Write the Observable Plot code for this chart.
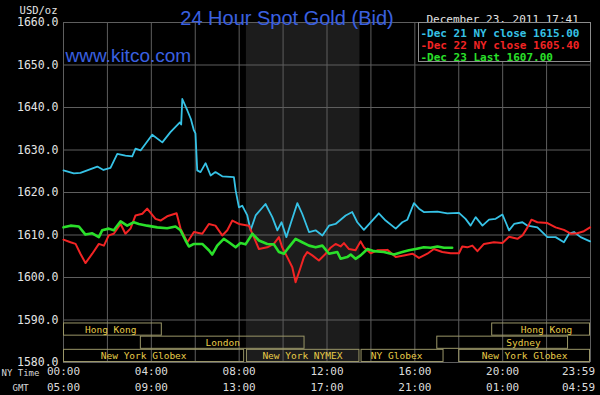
<!DOCTYPE html>
<html><head><meta charset="utf-8">
<script src="https://cdn.jsdelivr.net/npm/d3@7"></script>
<script src="https://cdn.jsdelivr.net/npm/@observablehq/plot@0.6"></script>
<style>
html,body{margin:0;padding:0;background:#000;}
#chart{width:600px;height:395px;overflow:hidden;}
svg{display:block}
</style></head><body><div id="chart"></div>
<script>
// Dec 21 NY close series (cyan): [NY hour, USD/oz]
const dec21 = [[0,1625.2],[0.47,1624.5],[0.77,1624.6],[1.08,1625.2],[1.54,1626.1],[1.82,1625.3],[2.14,1625.8],[2.45,1629.1],[2.82,1628.7],[3.13,1628.5],[3.28,1630.3],[3.51,1629.9],[4.04,1633.6],[4.5,1631.8],[4.87,1634.2],[5.3,1636.5],[5.36,1636.0],[5.41,1642.0],[5.64,1639.3],[5.8,1637.3],[5.94,1634.6],[6.01,1633.9],[6.09,1625.2],[6.24,1624.8],[6.47,1626.9],[6.7,1624.0],[6.92,1624.8],[7.23,1623.8],[7.76,1623.6],[7.84,1620.5],[7.99,1616.5],[8.14,1616.9],[8.37,1614.6],[8.52,1611.1],[8.75,1614.6],[9.2,1617.3],[9.51,1614.2],[9.74,1611.1],[9.93,1613.0],[10.15,1609.5],[10.34,1612.6],[10.65,1617.5],[10.87,1615.0],[11.18,1610.7],[11.48,1611.1],[11.79,1609.9],[12.09,1612.2],[12.39,1612.6],[12.85,1614.6],[13.15,1615.4],[13.38,1613.0],[13.68,1611.2],[14.06,1613.4],[14.36,1615.1],[14.67,1613.4],[15.13,1611.5],[15.43,1613.0],[15.66,1613.6],[15.96,1617.5],[16.19,1616.2],[16.41,1615.4],[17.03,1615.5],[17.48,1615.1],[18.01,1615.2],[18.31,1613.8],[18.54,1612.2],[18.77,1614.2],[19.08,1612.2],[19.38,1613.6],[19.68,1613.8],[19.99,1614.8],[20.14,1613.0],[20.29,1611.1],[20.52,1612.6],[20.9,1613.0],[21.13,1612.2],[21.58,1611.8],[22.04,1609.5],[22.41,1609.5],[22.79,1608.3],[23.02,1610.3],[23.25,1610.7],[23.55,1609.5],[23.98,1608.5]];
// Dec 22 NY close series (red)
const dec22 = [[0,1608.9],[0.32,1608.3],[0.55,1607.9],[0.77,1605.6],[1.0,1603.4],[1.31,1605.6],[1.61,1607.9],[1.84,1607.5],[2.06,1609.9],[2.29,1610.3],[2.6,1612.6],[2.82,1610.3],[3.05,1611.5],[3.28,1614.6],[3.59,1615.0],[3.81,1616.2],[4.19,1613.8],[4.42,1613.4],[4.72,1614.4],[5.15,1615.1],[5.33,1611.5],[5.64,1608.3],[5.94,1610.7],[6.32,1610.3],[6.62,1612.6],[6.92,1612.2],[7.23,1609.9],[7.46,1611.1],[7.69,1613.4],[7.99,1612.6],[8.44,1612.2],[8.67,1609.5],[8.9,1606.7],[9.28,1607.1],[9.58,1607.9],[9.81,1609.5],[9.96,1607.1],[10.19,1604.8],[10.42,1602.4],[10.57,1598.9],[10.8,1602.4],[10.95,1604.8],[11.1,1606.0],[11.33,1605.2],[11.63,1604.0],[11.94,1605.6],[12.16,1607.0],[12.39,1607.9],[12.62,1607.3],[12.77,1608.1],[13.0,1606.7],[13.3,1606.4],[13.53,1608.5],[13.68,1607.1],[13.99,1605.7],[14.29,1606.4],[14.75,1606.5],[15.13,1604.8],[15.5,1605.2],[15.89,1605.6],[16.19,1604.6],[16.57,1605.6],[16.87,1606.7],[17.25,1606.0],[17.63,1605.7],[18.01,1605.7],[18.16,1607.3],[18.39,1607.1],[18.62,1607.5],[18.85,1606.2],[19.15,1607.9],[19.6,1608.3],[19.99,1608.1],[20.29,1609.6],[20.67,1609.1],[20.9,1609.9],[21.13,1611.8],[21.31,1613.6],[21.58,1613.0],[22.04,1612.8],[22.41,1611.8],[22.79,1611.2],[23.1,1610.3],[23.4,1610.4],[23.7,1610.9],[23.98,1611.8]];
// Dec 23 last series (green)
const dec23 = [[0,1611.8],[0.32,1612.2],[0.7,1612.0],[1.0,1610.1],[1.31,1610.4],[1.61,1609.5],[1.76,1611.1],[2.06,1611.5],[2.29,1611.1],[2.6,1613.2],[2.9,1612.2],[3.2,1613.0],[3.43,1612.6],[3.81,1612.2],[4.27,1611.8],[4.72,1611.6],[5.1,1612.0],[5.33,1611.1],[5.56,1608.7],[5.71,1607.3],[5.94,1607.9],[6.32,1607.9],[6.62,1606.4],[6.77,1605.4],[7.0,1607.5],[7.3,1609.1],[7.53,1608.3],[7.84,1607.1],[8.06,1608.1],[8.29,1607.8],[8.6,1610.3],[8.9,1608.7],[9.28,1607.9],[9.58,1607.8],[9.81,1606.0],[10.04,1605.6],[10.26,1607.1],[10.57,1609.1],[10.87,1608.3],[11.18,1607.5],[11.48,1607.1],[11.79,1607.5],[12.09,1605.6],[12.47,1606.0],[12.62,1604.4],[12.92,1604.8],[13.08,1605.4],[13.3,1604.4],[13.53,1605.2],[13.84,1606.7],[14.14,1606.2],[14.59,1606.0],[15.05,1605.4],[15.43,1606.0],[15.73,1606.4],[16.04,1606.7],[16.41,1607.1],[16.72,1607.0],[17.03,1607.3],[17.33,1607.0],[17.7,1607.0]];

const seriesData = [dec21, dec22, dec23];
const seriesColors = ["#36c2e6", "#f22424", "#2ae02a"];
const seriesWidths = [1.8, 2, 2.6];
const legendLabels = ["-Dec 21 NY close 1615.00", "-Dec 22 NY close 1605.40", "-Dec 23 Last 1607.00"];

const yTicks = [1580, 1590, 1600, 1610, 1620, 1630, 1640, 1650, 1660];
const xGrid = [0, 2, 4, 6, 8, 10, 12, 14, 16, 18, 20, 22, 24];
const xTicks = [0, 4, 8, 12, 16, 20];
const nyTimeLabels = ["00:00", "04:00", "08:00", "12:00", "16:00", "20:00"];
const gmtLabels = ["05:00", "09:00", "13:00", "17:00", "21:00", "01:00"];
const lastTick = 23.983;
const lastNyLabel = "23:59";
const lastGmtLabel = "04:59";

const nymexWindow = [8.33, 13.5];
const sessionNames = ["Hong Kong", "London", "New York Globex", "New York NYMEX", "NY Globex", "Sydney", "New York Globex", "Hong Kong"];
const sessionStart = [0, 3.5, 0, 8.33, 13.55, 17, 18, 19.5];
const sessionEnd = [4.5, 11, 8.25, 13.5, 17.33, 23, 24, 24];
const sessionLane = [0, 1, 2, 2, 2, 1, 2, 0];
const sessionLabelAt = [2.15, 7.25, 3.65, 10.88, 15.17, 20.95, 21.0, 22.0];

const titleText = "24 Hour Spot Gold (Bid)";
const siteText = "www.kitco.com";
const stampText = "December 23, 2011 17:41";
const unitText = "USD/oz";

// derived tables
const lines = seriesData.map((s, i) => s.map(([h, p]) => ({h, p, i})));
const laneH = 3.1;
const sessions = sessionNames.map((name, i) => ({
  name,
  x1: sessionStart[i], x2: sessionEnd[i],
  y2: 1580 + (3 - sessionLane[i]) * laneH,
  y1: 1580 + (2 - sessionLane[i]) * laneH,
  lx: sessionLabelAt[i]
}));
const ticks = xTicks.map((t, i) => ({t, ny: nyTimeLabels[i], gmt: gmtLabels[i]}));
const lastTicks = [{t: lastTick, ny: lastNyLabel, gmt: lastGmtLabel}];

const mono = "DejaVu Sans Mono";
const sans = "Liberation Sans";

const legendBox = (index, scales, values, dims) => {
  const w = 172, h = 39;
  const x0 = dims.width - dims.marginRight - w;
  return d3.create("svg:rect")
    .attr("x", x0 + 0.5).attr("y", dims.marginTop + 0.5)
    .attr("width", w).attr("height", h)
    .attr("fill", "#000").attr("stroke", "#8c8c8c").node();
};

const chart = Plot.plot({
  width: 600, height: 395,
  marginLeft: 63, marginRight: 10, marginTop: 22, marginBottom: 33,
  x: {domain: [0, 24], axis: null},
  y: {domain: [1580, 1660], axis: null},
  style: {background: "#000", color: "#e4e4e4", fontFamily: mono, fontSize: "11px"},
  marks: [
    Plot.rect([nymexWindow], {x1: d => d[0], x2: d => d[1], fill: "#1c1c1c"}),
    Plot.ruleY(yTicks, {stroke: "#5e5e5e", strokeWidth: 1}),
    Plot.ruleX(xGrid, {stroke: "#5e5e5e", strokeWidth: 1}),
    Plot.rect(sessions, {x1: "x1", x2: "x2", y1: "y1", y2: "y2", fill: "none", stroke: "#9a9668", strokeWidth: 1, inset: 0.5}),
    Plot.text(sessions, {x: "lx", y: d => (d.y1 + d.y2) / 2, text: "name", fill: "#e8cc48", fontFamily: mono, fontSize: 9.5}),
    ...lines.map((l, i) => Plot.line(l, {x: "h", y: "p", stroke: seriesColors[i], strokeWidth: seriesWidths[i], strokeLinejoin: "round"})),
    Plot.axisY({ticks: yTicks, tickFormat: d => d.toFixed(1), tickSize: 0, tickPadding: 5, fontSize: 11.5, fill: "#e4e4e4", fontFamily: mono}),
    Plot.text(ticks, {x: "t", text: "ny", frameAnchor: "bottom", dy: 12.5, fill: "#dcdcdc", fontSize: 11}),
    Plot.text(ticks, {x: "t", text: "gmt", frameAnchor: "bottom", dy: 28, fill: "#dcdcdc", fontSize: 11}),
    Plot.text(lastTicks, {x: "t", text: "ny", frameAnchor: "bottom", dy: 12.5, dx: 5, textAnchor: "end", fill: "#dcdcdc", fontSize: 11}),
    Plot.text(lastTicks, {x: "t", text: "gmt", frameAnchor: "bottom", dy: 28, dx: 5, textAnchor: "end", fill: "#dcdcdc", fontSize: 11}),
    Plot.text(["NY Time"], {frameAnchor: "bottom-left", dx: -62, dy: 13.5, textAnchor: "start", fill: "#d8d8d8", fontSize: 9}),
    Plot.text(["GMT"], {frameAnchor: "bottom-left", dx: -51, dy: 28, textAnchor: "start", fill: "#d8d8d8", fontSize: 9}),
    Plot.text([unitText], {frameAnchor: "top-left", dx: -6, dy: -16, textAnchor: "end", fill: "#e4e4e4", fontSize: 10.5}),
    Plot.text([titleText], {frameAnchor: "top", dx: -40, dy: -11.4, fill: "#3a60e0", fontFamily: sans, fontSize: 20}),
    Plot.text([siteText], {frameAnchor: "top-left", dx: 2, dy: 26, textAnchor: "start", fill: "#3a60e0", fontFamily: sans, fontSize: 19}),
    Plot.text([stampText], {frameAnchor: "top-right", dx: -164, dy: -7.5, textAnchor: "start", fill: "#e4e4e4", fontSize: 11}),
    legendBox,
    ...legendLabels.map((t, i) => Plot.text([t], {frameAnchor: "top-right", dx: -170, dy: 6.5 + i * 12.3, textAnchor: "start", fill: seriesColors[i], fontWeight: "bold", fontSize: 11}))
  ]
});
document.getElementById("chart").appendChild(chart);
</script>
</body></html>
